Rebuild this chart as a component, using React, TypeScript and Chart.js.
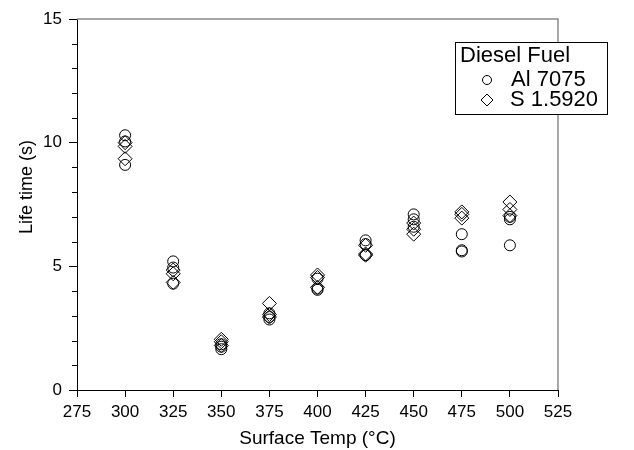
import React, { useEffect, useRef } from "react";
import { Chart, registerables } from "chart.js";

Chart.register(...registerables);

const temperatures = [300, 325, 350, 375, 400, 425, 450, 475, 500];
const al7075Runs = [
  [10.3, 10.05, 9.1],
  [5.2, 4.95, 4.3],
  [1.85, 1.75, 1.65],
  [3.1, 2.95, 2.85],
  [4.5, 4.1, 4.05],
  [6.05, 5.9, 5.45],
  [7.1, 6.9, 6.6],
  [6.3, 5.65, 5.6],
  [7.0, 6.9, 5.85],
];
const s15920Runs = [
  [10.0, 9.85, 9.35],
  [4.85, 4.7, 4.35],
  [2.05, 1.95, 1.8],
  [3.5, 3.05, 2.95],
  [4.65, 4.55, 4.15],
  [5.85, 5.5, 5.45],
  [6.75, 6.5, 6.3],
  [7.2, 7.1, 6.95],
  [7.6, 7.3, 7.05],
];
const seriesNames = ["Al 7075", "S 1.5920"];
const legendTitle = "Diesel Fuel";
const xTitle = "Surface Temp (°C)";
const yTitle = "Life time (s)";
const yMinorTicks = [1, 2, 3, 4, 6, 7, 8, 9, 11, 12, 13, 14];

const FONT = "'Liberation Sans', Arial, sans-serif";

function toPoints(runs: number[][]) {
  const pts: { x: number; y: number }[] = [];
  temperatures.forEach((t, i) => runs[i].forEach((v) => pts.push({ x: t, y: v })));
  return pts;
}

const extrasPlugin = {
  id: "extras",
  afterDraw(chart: any) {
    const { ctx, chartArea } = chart;
    const yScale = chart.scales.y;
    ctx.save();
    // top and right frame
    ctx.strokeStyle = "#8a8a8a";
    ctx.lineWidth = 1.5;
    ctx.beginPath();
    ctx.moveTo(chartArea.left, chartArea.top);
    ctx.lineTo(chartArea.right, chartArea.top);
    ctx.lineTo(chartArea.right, chartArea.bottom);
    ctx.stroke();
    // minor y ticks
    ctx.strokeStyle = "#000";
    ctx.lineWidth = 1;
    ctx.beginPath();
    yMinorTicks.forEach((v) => {
      const py = Math.round(yScale.getPixelForValue(v)) + 0.5;
      ctx.moveTo(chartArea.left - 5, py);
      ctx.lineTo(chartArea.left, py);
    });
    ctx.stroke();
    // y title
    ctx.fillStyle = "#000";
    ctx.font = `18px ${FONT}`;
    ctx.textAlign = "center";
    ctx.textBaseline = "middle";
    ctx.translate(27, 187);
    ctx.rotate(-Math.PI / 2);
    ctx.fillText(yTitle, 0, 0);
    ctx.restore();

    // legend box
    ctx.save();
    const bx = chartArea.right - 103;
    const by = chartArea.top + 23;
    const bw = 152;
    const bh = 72;
    ctx.fillStyle = "#fff";
    ctx.fillRect(bx, by, bw, bh);
    ctx.strokeStyle = "#000";
    ctx.lineWidth = 1;
    ctx.strokeRect(bx + 0.5, by + 0.5, bw, bh);
    ctx.fillStyle = "#000";
    ctx.font = `22px ${FONT}`;
    ctx.textAlign = "left";
    ctx.textBaseline = "middle";
    ctx.fillText(legendTitle, bx + 5, by + 14);
    const mx = bx + 32;
    // circle marker
    ctx.beginPath();
    ctx.arc(mx, by + 38, 4.5, 0, Math.PI * 2);
    ctx.stroke();
    ctx.fillText(seriesNames[0], bx + 56, by + 38);
    // diamond marker
    const dy = by + 58;
    const r = 6;
    ctx.beginPath();
    ctx.moveTo(mx, dy - r);
    ctx.lineTo(mx + r, dy);
    ctx.lineTo(mx, dy + r);
    ctx.lineTo(mx - r, dy);
    ctx.closePath();
    ctx.stroke();
    ctx.fillText(seriesNames[1], bx + 55, dy);
    ctx.restore();
  },
};

export default function App() {
  const ref = useRef<HTMLCanvasElement | null>(null);
  useEffect(() => {
    if (!ref.current) return;
    const chart = new Chart(ref.current, {
      type: "scatter",
      data: {
        datasets: [
          {
            label: seriesNames[0],
            data: toPoints(al7075Runs),
            pointStyle: "circle",
            pointRadius: 5.5,
            pointHoverRadius: 5.5,
            borderColor: "#000",
            backgroundColor: "rgba(0,0,0,0)",
            borderWidth: 1,
          },
          {
            label: seriesNames[1],
            data: toPoints(s15920Runs),
            pointStyle: "rectRot",
            pointRadius: 7,
            pointHoverRadius: 7,
            borderColor: "#000",
            backgroundColor: "rgba(0,0,0,0)",
            borderWidth: 1,
          },
        ],
      },
      options: {
        responsive: false,
        animation: false,
        devicePixelRatio: 1,
        layout: { padding: { left: 0, right: 76, top: 19, bottom: 0 } },
        plugins: {
          legend: { display: false },
          tooltip: { enabled: false },
        },
        scales: {
          x: {
            type: "linear",
            min: 275,
            max: 525,
            afterFit: (s: any) => {
              s.height = 60;
            },
            ticks: {
              stepSize: 25,
              color: "#000",
              padding: 5,
              font: { family: FONT, size: 17 },
            },
            grid: {
              drawOnChartArea: false,
              drawTicks: true,
              tickLength: 7,
              tickColor: "#000",
            },
            border: { display: true, color: "#000", width: 1 },
            title: {
              display: true,
              text: xTitle,
              color: "#000",
              font: { family: FONT, size: 19 },
              padding: { top: 0, bottom: 0 },
            },
          },
          y: {
            type: "linear",
            min: 0,
            max: 15,
            afterFit: (s: any) => {
              s.width = 77;
            },
            ticks: {
              stepSize: 5,
              color: "#000",
              padding: 7,
              font: { family: FONT, size: 17 },
            },
            grid: {
              drawOnChartArea: false,
              drawTicks: true,
              tickLength: 8,
              tickColor: "#000",
            },
            border: { display: true, color: "#000", width: 1 },
          },
        },
      },
      plugins: [extrasPlugin],
    });
    return () => chart.destroy();
  }, []);
  return (
    <div style={{ position: "absolute", left: 0, top: 0, width: 634, height: 450, background: "#fff" }}>
      <canvas ref={ref} width={634} height={450} />
    </div>
  );
}
